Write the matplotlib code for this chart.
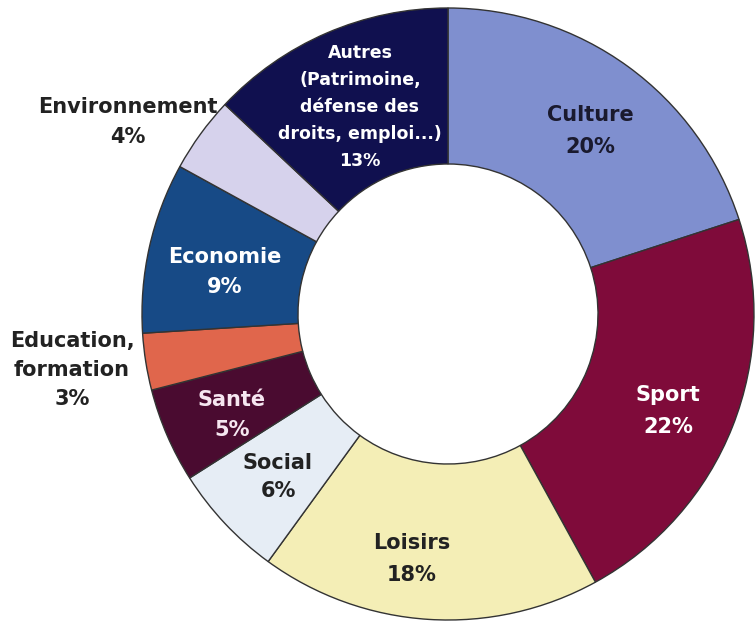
import matplotlib.pyplot as plt

# données (part des associations par secteur, %)
secteurs = ['Culture', 'Sport', 'Loisirs', 'Social', 'Santé',
            'Education,\nformation', 'Economie', 'Environnement',
            'Autres\n(Patrimoine,\ndéfense des\ndroits, emploi...)']
parts = [20, 22, 18, 6, 5, 3, 9, 4, 13]

couleurs = ['#7f8fcf', '#7f0b3a', '#f4eeb6', '#e6edf5', '#4a0b30',
            '#e0664c', '#174a86', '#d6d2ec', '#10104f']
couleurs_texte = ['#1a1a2e', 'white', '#222222', '#222222', '#f6e6f0',
                  '#222222', 'white', '#222222', 'white']
# position des étiquettes (pixels de l'image, origine en haut à gauche)
pos_etiquettes = [(590, 131), (668, 411), (412, 559), (278, 477), (232, 415),
                  (72, 370), (225, 272), (128, 122), (360, 107)]
tailles = [15, 15, 15, 15, 15, 15, 15, 15, 12.5]
interlignes = [1.7, 1.7, 1.7, 1.55, 1.6, 1.55, 1.6, 1.65, 1.65]

W, H = 755, 633
fig = plt.figure(figsize=(W / 100, H / 100), dpi=100)
ax = fig.add_axes([0, 0, 1, 1])

ax.pie(parts, colors=couleurs, startangle=90, counterclock=False,
       center=(448, H - 314), radius=306,
       wedgeprops=dict(width=156, edgecolor='#333333', linewidth=1.0))

for nom, p, (x, y), c, t, l in zip(secteurs, parts, pos_etiquettes,
                                   couleurs_texte, tailles, interlignes):
    ax.text(x, H - y, f'{nom}\n{p}%', ha='center', va='center', color=c,
            fontsize=t, fontweight='bold', family='DejaVu Sans',
            linespacing=l, multialignment='center')

ax.set_xlim(0, W)
ax.set_ylim(0, H)
ax.set_aspect('equal')
ax.axis('off')

plt.savefig('out.png', dpi=100)
plt.close()
